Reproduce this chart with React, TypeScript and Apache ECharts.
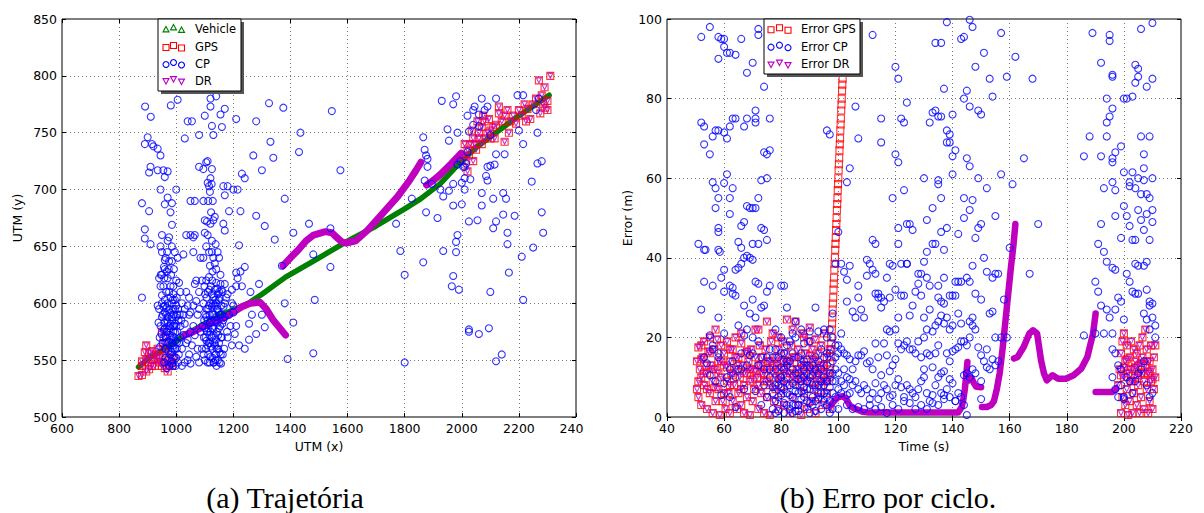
import React, { useEffect, useRef } from "react";
import * as echarts from "echarts";

// ---------- Left chart (trajectory) ----------
const leftXTicks = [600, 800, 1000, 1200, 1400, 1600, 1800, 2000, 2200, 2400];
const leftYTicks = [500, 550, 600, 650, 700, 750, 800, 850];

const leftVehicle: number[][] = [
  [868, 544], [900, 551], [960, 560], [1030, 572], [1100, 582], [1160, 590], [1253, 600], [1300, 608],
  [1383, 623], [1500, 640], [1588, 653], [1700, 668], [1800, 683], [1857, 692], [1924, 705], [1991, 723],
  [2050, 737], [2125, 751], [2200, 765], [2306, 783],
];

const leftGps: number[][] = [
  [868, 536], [880, 537], [895, 540], [905, 542], [880, 549], [890, 557], [895, 563], [905, 556], [915, 558],
  [920, 550], [930, 555], [935, 560], [940, 548], [950, 545], [960, 543], [970, 540], [975, 545], [985, 548],
  [990, 552], [900, 548], [910, 553], [925, 545], [945, 553], [955, 565], [965, 556], [975, 552], [880, 545],
  [895, 551], [915, 545], [935, 552], [955, 548], [985, 545], [965, 570], [950, 575], [960, 560],
  [2020, 716], [2020, 735], [2030, 740], [2040, 725], [2040, 745], [2050, 735], [2060, 745], [2060, 750],
  [2070, 740], [2070, 755], [2080, 745], [2080, 760], [2090, 750], [2100, 745], [2100, 752], [2110, 755],
  [2115, 745], [2120, 757], [2130, 767], [2130, 773], [2140, 760], [2150, 742], [2150, 765], [2160, 770],
  [2165, 750], [2170, 760], [2180, 765], [2190, 758], [2200, 770], [2210, 765], [2220, 775], [2225, 760],
  [2230, 771], [2240, 762], [2250, 775], [2260, 780], [2270, 796], [2275, 767], [2280, 783], [2290, 790],
  [2290, 772], [2300, 778], [2310, 800], [2300, 770], [2285, 775], [2005, 730], [2010, 725], [2035, 752],
  [2055, 760], [2075, 765], [2095, 762], [2010, 740], [2025, 730], [2045, 740],
];

const leftCp: number[][] = [
  [891, 773], [911, 764], [1005, 779], [981, 774], [890, 740], [900, 746], [915, 740], [920, 738], [935, 736],
  [945, 730], [880, 688], [890, 665], [890, 657], [905, 681], [910, 652], [880, 605], [910, 720], [905, 715],
  [935, 717], [955, 717], [970, 716], [960, 711], [945, 700], [960, 687], [970, 693], [985, 688], [980, 680],
  [985, 669], [975, 658], [970, 655], [950, 660], [945, 650], [950, 645], [960, 638], [975, 637], [985, 637],
  [960, 630], [950, 625], [940, 622], [970, 622], [955, 615], [965, 610], [980, 615], [990, 615], [1000, 700],
  [1030, 745], [1040, 760], [1055, 760], [1050, 690], [1065, 690], [1050, 660], [1060, 658], [1065, 660],
  [1025, 643], [1035, 610], [1045, 605], [1030, 595], [1045, 590],
  [1100, 765], [1120, 780], [1120, 773], [1125, 756], [1130, 748], [1140, 782], [1160, 755], [1155, 766],
  [1170, 771], [1080, 748], [1080, 720], [1095, 718], [1110, 725], [1125, 718], [1105, 724],
  [1210, 762], [1180, 703], [1165, 703], [1200, 700], [1215, 700], [1170, 695], [1185, 681], [1225, 681],
  [1230, 714], [1240, 710], [1165, 670], [1170, 664], [1220, 651], [1240, 632], [1225, 628], [1210, 627],
  [1215, 622], [1210, 615], [1230, 615], [1195, 612], [1180, 608], [1195, 600], [1200, 598], [1200, 592],
  [1170, 588], [1210, 580], [1220, 563], [1240, 560], [1195, 563], [1180, 570], [1205, 573],
  [1280, 760], [1270, 730], [1300, 717], [1325, 776], [1330, 742], [1340, 728], [1375, 772], [1380, 692],
  [1435, 750], [1430, 733], [1545, 769], [1575, 717], [1280, 677], [1310, 668], [1345, 656], [1370, 633],
  [1410, 662], [1465, 670], [1480, 643], [1540, 666], [1540, 632], [1290, 617], [1260, 610], [1265, 590],
  [1255, 582], [1280, 573], [1310, 579], [1255, 568], [1300, 590], [1380, 600], [1410, 583], [1390, 551],
  [1485, 603], [1480, 556],
  [1770, 670], [1785, 646], [1800, 625], [1800, 548], [1865, 636], [1865, 746], [1870, 735], [1875, 730],
  [1880, 720], [1870, 708], [1875, 680], [1880, 727], [1895, 705], [1930, 778], [1950, 753], [1980, 782],
  [1970, 775], [1955, 743], [1985, 750], [1925, 700], [1935, 694], [1915, 675], [1955, 699], [1970, 705],
  [1985, 722], [1995, 725], [1970, 686], [2000, 687], [1985, 660], [1980, 654], [1980, 645], [1935, 646],
  [1970, 624], [1965, 615], [1990, 612], [1825, 692],
  [2020, 765], [2040, 770], [2045, 773], [2060, 766], [2040, 757], [2060, 756], [2070, 780], [2080, 770],
  [2090, 773], [2120, 780], [2100, 748], [2090, 720], [2100, 721], [2090, 708], [2085, 712], [2070, 697],
  [2110, 692], [2070, 686], [2030, 709], [2020, 733], [2010, 710], [2025, 672], [2055, 673], [2110, 666],
  [2120, 672], [2145, 678], [2145, 697], [2155, 692], [2160, 662], [2160, 652], [2165, 627], [2115, 722],
  [2120, 731], [2150, 731], [2185, 677], [2195, 783], [2215, 783], [2215, 740], [2200, 752], [2245, 707],
  [2265, 750], [2265, 723], [2280, 725], [2270, 780], [2260, 770], [2280, 680], [2285, 662], [2250, 649],
  [2210, 641], [2215, 603], [2100, 610], [2025, 577], [2025, 575], [2060, 573], [2095, 578], [2120, 549],
  [2140, 555], [2025, 751], [2010, 700], [2000, 706], [2005, 720], [2010, 720], [2015, 723],
  [945, 580], [950, 588], [955, 570], [960, 592], [962, 560], [965, 575], [968, 585], [970, 550], [972, 565],
  [975, 595], [977, 578], [980, 555], [982, 568], [984, 588], [986, 547], [988, 560], [990, 575], [992, 590],
  [994, 553], [996, 582], [998, 567], [1000, 598], [1002, 560], [1004, 575], [1006, 548], [1008, 585],
  [970, 600], [975, 610], [980, 605], [985, 600], [990, 608], [995, 603], [960, 603], [955, 597], [950, 600],
  [940, 595], [935, 598], [938, 583], [942, 570], [958, 548], [966, 543], [976, 545], [990, 545], [1000, 552],
  [1010, 565], [1015, 580], [1020, 560], [1025, 572], [1030, 582], [1035, 565], [1040, 550], [1045, 555],
  [1050, 547], [1040, 568], [1050, 575], [1060, 580], [1070, 553], [1075, 560], [1080, 548], [1055, 563],
  [1065, 572], [1020, 600], [1025, 590], [1040, 598], [1050, 592], [1060, 598], [1070, 602], [1015, 610],
  [1010, 618], [1065, 617], [1020, 545], [1030, 548], [963, 640], [957, 632], [1005, 640], [945, 615],
  [950, 607], [965, 590], [985, 565], [978, 572], [988, 580], [995, 560], [970, 583], [960, 578], [952, 565],
  [1004, 590], [998, 545],
  [958, 583], [962, 571], [967, 596], [971, 588], [973, 558], [979, 592], [981, 582], [983, 549], [987, 571],
  [989, 595], [991, 563], [993, 580], [997, 574], [999, 588], [1003, 566], [1007, 595], [1009, 555], [963, 552],
  [969, 575], [974, 580], [986, 585], [992, 570], [996, 595], [1001, 580], [953, 590], [957, 577], [948, 573],
  [944, 562], [1012, 590], [1014, 570], [1018, 585], [978, 563], [984, 557], [966, 566], [961, 598], [988, 603],
  [1002, 605], [946, 625], [958, 622], [967, 628], [974, 630], [982, 625], [992, 630], [1000, 620], [995, 645],
  [985, 650], [968, 645],
  [1090, 560], [1092, 580], [1095, 600], [1097, 570], [1099, 615], [1100, 550], [1102, 590], [1104, 560],
  [1106, 605], [1108, 575], [1110, 548], [1112, 595], [1114, 565], [1116, 612], [1118, 583], [1120, 553],
  [1122, 600], [1124, 570], [1126, 620], [1128, 590], [1130, 548], [1132, 605], [1134, 565], [1136, 585],
  [1138, 555], [1140, 600], [1142, 575], [1144, 613], [1146, 550], [1148, 592], [1150, 565], [1152, 605],
  [1154, 580], [1156, 555], [1158, 598], [1160, 570], [1162, 610], [1165, 585], [1168, 560], [1170, 600],
  [1105, 620], [1115, 623], [1125, 608], [1135, 612], [1145, 595], [1155, 617], [1100, 578], [1110, 585],
  [1120, 575], [1130, 578], [1140, 588], [1150, 578], [1160, 590], [1112, 555], [1122, 562], [1132, 548],
  [1142, 560], [1152, 548], [1085, 575], [1080, 595], [1075, 590], [1178, 575], [1175, 605], [1170, 617],
  [1185, 590], [1190, 580], [1095, 640], [1105, 650], [1110, 660], [1115, 645], [1120, 670], [1125, 655],
  [1130, 640], [1135, 635], [1140, 630], [1145, 645], [1150, 640], [1155, 625], [1118, 633], [1127, 628],
  [1138, 652], [1100, 662], [1108, 672], [1122, 680], [1130, 673], [1112, 690], [1118, 698], [1124, 705],
  [1115, 703], [1110, 706], [1120, 710], [1128, 690], [1135, 676], [1095, 690], [1100, 673], [1125, 645],
  [1140, 618], [1150, 610], [1035, 660], [1060, 645], [1085, 640], [1070, 620], [1080, 610], [1090, 620],
  [1096, 555], [1098, 585], [1101, 608], [1103, 570], [1107, 595], [1109, 563], [1111, 610], [1113, 578],
  [1117, 590], [1119, 565], [1121, 615], [1123, 585], [1127, 560], [1129, 600], [1131, 572], [1133, 590],
  [1137, 603], [1139, 568], [1141, 545], [1143, 595], [1147, 572], [1149, 603], [1151, 557], [1153, 590],
  [1157, 570], [1159, 612], [1161, 582], [1163, 555], [1166, 597], [1105, 588], [1115, 598], [1125, 597],
  [1135, 598], [1145, 583], [1155, 590], [1117, 548], [1127, 552], [1137, 550], [1147, 560], [1157, 547],
  [1106, 567], [1126, 578], [1146, 608], [1116, 572], [1136, 563],
];

const leftDr1: number[][] = [
  [1030, 572], [1060, 575], [1100, 580], [1150, 585], [1186, 590], [1230, 597], [1260, 600], [1293, 601],
  [1315, 595], [1340, 585], [1383, 572],
];
const leftDr2: number[][] = [
  [1374, 633], [1400, 640], [1428, 647], [1455, 655], [1481, 660], [1522, 663], [1545, 662], [1562, 658],
  [1580, 654], [1595, 653], [1629, 655], [1669, 664], [1723, 679], [1776, 694], [1817, 708], [1840, 717],
  [1857, 724],
];
const leftDr3: number[][] = [[1877, 704], [1900, 708], [1924, 713], [1964, 723], [1998, 732]];

// ---------- Right chart (error per cycle) ----------
const rightXTicks = [40, 60, 80, 100, 120, 140, 160, 180, 200, 220];
const rightYTicks = [0, 20, 40, 60, 80, 100];

const rightGpsA: number[][] = [
  [50.5, 14], [50.5, 7], [51, 5], [51, 17.5], [51.5, 12], [52, 10], [52, 3], [52.5, 15], [53, 8], [53, 19],
  [53.5, 13], [54, 2], [54, 11], [54.5, 16.5], [55, 6], [55, 20], [55.5, 13], [56, 1], [56, 9], [56.5, 17],
  [57, 4], [57, 12], [57.5, 19.5], [58, 7], [58, 14], [58.5, 0.5], [59, 10], [59, 18], [59.5, 4], [60, 13],
  [60, 16], [60.5, 2], [61, 9], [61, 19], [61.5, 6], [62, 14], [62, 1], [62.5, 11], [63, 17], [63, 4],
  [63.5, 8], [64, 12], [64, 20], [64.5, 2], [65, 15], [65, 6], [65.5, 10], [66, 18.5], [66, 3], [66.5, 13],
  [67, 8], [67, 1], [67.5, 16], [68, 11], [68, 5], [68.5, 14], [69, 9], [69, 0.5], [69.5, 17], [70, 12],
  [70, 4], [70.5, 7], [71, 15], [71, 22], [71.5, 10], [72, 2], [72, 13], [72.5, 18], [73, 6], [73, 11],
  [73.5, 15], [74, 1], [74, 9], [74.5, 17], [75, 5], [75, 12], [75.5, 14], [76, 0.5], [76, 8], [76.5, 19],
  [77, 11], [77, 21], [77.5, 4], [78, 15], [78, 7], [78.5, 13], [79, 2], [79, 17], [79.5, 10], [80, 14],
  [80, 6], [80.5, 19], [81, 12], [81, 3], [81.5, 16], [82, 8], [82, 24.5], [82.5, 14], [83, 1], [83, 11],
  [83.5, 18], [84, 5], [84, 22], [84.5, 15], [85, 9], [85, 24], [85.5, 12], [86, 3], [86, 17], [86.5, 8],
  [87, 14], [87, 0.5], [87.5, 21], [88, 11], [88, 6], [88.5, 16], [89, 2], [89, 13], [89.5, 19], [90, 9],
  [90, 15.5], [90.5, 4], [91, 12], [91, 17], [91.5, 7], [92, 14], [92, 1], [92.5, 10], [93, 16], [93, 5],
  [93.5, 12], [94, 8], [94, 18], [94.5, 3], [95, 13], [95, 21], [95.5, 9], [96, 15], [96, 6], [96.5, 11],
  [97, 2], [97, 17],
  [51, 9], [52, 14.5], [53, 11], [54, 7], [55, 16], [56, 12], [57, 7.5], [58, 11], [59, 14], [60, 6],
  [61, 12.5], [62, 8], [63, 10.5], [64, 15], [65, 13], [66, 7], [67, 11], [68, 16.5], [69, 12], [70, 9.5],
  [71, 11.5], [72, 8], [73, 13], [74, 11], [75, 9], [76, 14], [77, 13], [78, 10], [79, 12], [80, 9], [81, 14],
  [82, 11], [83, 13.5], [84, 10], [85, 15], [86, 12], [87, 10], [88, 13], [89, 9], [90, 12], [91, 14.5],
  [92, 11], [93, 9], [94, 13], [95, 11], [96, 9], [52, 18], [62, 17], [72, 22], [79, 20], [88, 20], [92, 19.5],
  [75, 24], [90, 22.5], [57, 22], [66, 21],
];
const rightGpsRise: number[][] = [
  [97.0, 10], [97.1, 12], [97.2, 13.5], [97.3, 15], [97.4, 17], [97.5, 18.5], [97.6, 20], [97.7, 22],
  [97.8, 23.5], [97.9, 25], [98.0, 27], [98.1, 28.5], [98.2, 30], [98.3, 32], [98.4, 33.5], [98.5, 35],
  [98.6, 37], [98.7, 38.5], [98.8, 40], [98.9, 42], [99.0, 43.5], [99.1, 45], [99.2, 47], [99.3, 48.5],
  [99.4, 50], [99.5, 52], [99.6, 53.5], [99.7, 55], [99.8, 57], [99.9, 58.5], [100.0, 60], [100.1, 62],
  [100.2, 63.5], [100.3, 65], [100.4, 67], [100.5, 68.5], [100.6, 70], [100.7, 72], [100.8, 73.5],
  [100.9, 75], [101.0, 77], [101.1, 78.5], [101.2, 80], [101.3, 82], [101.4, 83.5], [101.5, 85], [101.6, 87],
  [101.7, 88.5], [101.8, 90], [101.9, 92], [102.0, 93.5], [102.1, 95], [102.2, 97], [102.3, 98.5],
];
const rightGpsB: number[][] = [
  [198, 8], [198.5, 12], [199, 1], [199, 16], [199.5, 5], [199.5, 19], [200, 10], [200, 21], [200.5, 3],
  [200.5, 14], [201, 7], [201, 18], [201.5, 0.5], [201.5, 11], [202, 15], [202, 4], [202.5, 9], [202.5, 19],
  [203, 12], [203, 1], [203.5, 17], [203.5, 6], [204, 14], [204, 10], [204.5, 3], [204.5, 16], [205, 8],
  [205, 13], [205.5, 1], [205.5, 18], [206, 11], [206, 5], [206.5, 15], [206.5, 20], [207, 9], [207, 2],
  [207.5, 13], [207.5, 22], [208, 7], [208, 17], [208.5, 11], [208.5, 1], [209, 14], [209, 4], [209.5, 9],
  [209.5, 18], [210, 12], [210, 2], [210.5, 15], [210.5, 7], [211, 18], [211, 10],
  [199, 10.5], [200, 12.5], [201, 14.5], [202, 12], [203, 9], [204, 12.5], [205, 10.5], [206, 13.5],
  [207, 11], [208, 14], [209, 11.5], [210, 9.5],
];

const rightCp: number[][] = [
  [52, 95.5], [55, 98], [58, 95.5], [58, 90], [59, 95], [60, 93], [60, 95], [61, 91.5], [62, 91.5], [64, 91],
  [66, 95], [68, 86.5], [70, 89], [72, 96], [72, 97.5], [74, 83], [76, 97], [52, 74], [53, 73], [53, 68.5],
  [55, 66], [56, 70.5], [57, 72], [58, 72], [60, 71.5], [61, 70], [62, 73], [63, 75], [64, 75], [67, 73],
  [68, 75], [71, 77], [71, 75], [71, 74], [76, 75], [61, 61], [56, 59], [57, 57.5], [58, 55], [60, 58.8],
  [63, 57.5], [66, 48], [67, 49], [68, 53], [69, 52.5], [70, 52.5], [71, 52.5], [72, 55], [73, 59.5], [75, 60],
  [74, 66.5], [75, 66], [76, 67], [51, 43.5], [53, 42], [53.5, 42], [57, 52.5], [58, 47.5], [58, 46.5], [58, 42],
  [58.5, 41.5], [62, 55], [62, 51], [65, 44], [66, 42.5], [70, 43.5], [72, 43.5], [73, 47.5], [74, 47],
  [75, 44.5], [59, 35], [60, 37], [62, 33], [63, 32.5], [63, 31], [64, 30.5], [64, 37], [65, 37.5], [66, 38.5],
  [67, 40], [68, 40.5], [69, 40], [70, 39.5], [71, 34], [72, 33.5], [53, 34], [56, 33], [52, 27], [58, 25],
  [60, 31.5], [65, 23], [67, 28], [68, 22], [69, 26], [70, 29.5], [71, 25], [73, 27.5], [74, 28], [75, 31.5],
  [76, 33], [78, 22], [80, 33], [81, 33], [82, 27.5], [84, 21], [85, 24], [87, 22], [90, 21.5], [92, 27.5],
  [96, 72], [97, 71], [100, 46.5], [99, 38.5], [98, 26], [97, 22], [95, 22],
  [104, 62.5], [103, 59], [106, 78], [107, 70], [112, 96], [115, 75], [115, 69], [119, 55], [120, 88], [121, 85],
  [120, 66], [121, 64], [122, 75], [123, 74], [124, 79], [123, 57], [124, 48.5], [125, 48.5], [126, 47],
  [130, 60], [131, 49.5], [132, 74], [133, 76.5], [134, 94], [134, 77], [135, 75.5], [136, 94], [136, 75.5],
  [135, 59.5], [135, 58.5], [133, 52.5], [136, 55], [137, 82.5], [138, 72], [139, 71], [138, 69], [139, 69],
  [140, 76], [140, 61], [140, 65.5], [141, 67], [142, 46], [143, 95], [144, 95.5], [145, 82], [144, 80],
  [145, 65], [146, 63], [146, 78], [147, 98], [148, 88], [149, 77], [150, 76], [149, 60], [150, 48.5],
  [149, 47.5], [147, 54.5], [146, 52], [144, 55], [144, 50], [148, 45], [138, 47.5], [136, 46.5], [133, 43.5],
  [134, 43.5], [137, 42], [131, 41.5], [121, 47.5], [121, 43.5], [124, 38.5], [122, 38.5], [128, 36], [129, 36],
  [132, 33], [131, 35], [130, 39], [137, 35], [135, 33], [135, 30], [136, 29], [137, 28.5], [139, 30.5],
  [140, 30.5], [141, 34], [142, 34], [143, 34], [145, 35], [146, 34], [147, 38], [148, 31], [150, 29.5],
  [151, 40], [152, 36.5], [153, 26], [154, 26.5], [154, 35], [155, 36], [156, 36], [151, 91.5], [153, 85],
  [154, 80.5], [155, 50.5], [152, 57.5], [157, 96.5], [159, 85.5], [157, 61], [161, 58.5], [162, 90.5],
  [165, 65], [167, 36], [168, 85], [170, 48.5], [158, 29.5], [160, 42.5], [157, 20], [159, 20], [138, 99.2],
  [146, 99.8],
  [101, 38.5], [102, 36.5], [103, 34.5], [104, 38], [103, 29], [105, 26.5], [106, 25], [107, 33], [107, 30],
  [108, 27], [109, 25], [110, 35.5], [110, 39.5], [111, 38.5], [112, 37], [113, 36], [113, 31], [114, 30],
  [115, 30], [116, 29], [117, 35], [118, 38.5], [119, 38], [112, 44.5], [113, 43.5], [114, 31], [115, 27.5],
  [117, 22], [118, 21.5], [120, 22], [121, 25], [122, 30.5], [123, 30.5], [124, 38.5], [125, 25.5], [126, 28],
  [127, 31.5], [128, 33.5], [129, 30.5], [130, 25], [130, 20], [131, 22], [132, 27], [133, 21.5], [134, 23],
  [135, 24], [136, 25.5], [137, 23.5], [138, 25], [139, 22], [140, 23], [141, 30.5], [142, 26], [143, 23.5],
  [144, 19], [145, 18], [146, 24], [147, 23], [148, 22], [149, 17.5], [150, 15.5], [151, 14], [152, 17],
  [153, 12], [154, 14.5], [155, 20], [156, 14],
  [101, 17], [102, 16], [103, 15.5], [104, 14.5], [105, 12], [106, 14], [107, 15.5], [108, 15.5], [109, 16.5],
  [110, 13.5], [111, 14], [112, 12], [113, 18.5], [114, 15], [115, 10.5], [116, 18.5], [117, 15.5], [118, 11.5],
  [119, 13], [120, 14.5], [121, 18.5], [122, 17], [123, 18], [124, 19], [125, 17], [126, 17], [127, 16],
  [128, 19], [129, 15], [130, 12], [131, 16], [132, 15.5], [133, 12.5], [134, 16], [135, 18], [136, 11],
  [137, 11.5], [138, 16], [139, 14], [140, 16.5], [141, 17], [142, 17.5], [143, 19], [144, 10.5], [145, 11],
  [146, 10], [147, 12], [148, 11], [102, 8], [103, 5.5], [104, 9.5], [105, 8], [106, 9], [107, 7], [108, 6],
  [109, 8], [110, 7], [111, 4.5], [112, 6], [113, 8.5], [114, 4.5], [115, 6], [116, 8], [117, 7], [118, 5],
  [119, 5.5], [120, 8], [121, 9.5], [122, 7.5], [123, 5], [124, 8], [125, 7], [126, 6], [127, 5], [128, 7],
  [129, 9], [130, 10], [131, 6], [132, 4], [133, 5.5], [134, 8], [135, 10], [136, 6], [137, 5.5], [138, 7],
  [139, 9.5], [140, 8.5], [141, 4], [142, 6], [143, 5], [144, 3], [103, 3], [105, 2], [107, 2.5], [109, 2],
  [111, 3], [113, 2], [115, 2.5], [117, 1], [119, 3], [121, 2], [123, 4], [125, 3.5], [127, 2], [129, 3],
  [131, 2], [133, 3.5], [135, 3], [137, 4.5], [139, 5], [141, 4], [145, 0.5], [155, 13], [152, 12.5], [150, 9],
  [150, 4.5], [146, 20], [147, 25], [120, 32], [118, 30],
  [53, 15], [54, 13.5], [55, 10.5], [56, 18], [57, 9], [58, 15], [59, 5.5], [60, 8.5], [61, 10], [62, 12],
  [63, 14], [64, 10], [65, 12], [66, 12], [67, 7], [68, 13], [69, 15.5], [70, 16], [71, 6.5], [72, 13],
  [73, 15], [74, 12], [75, 15], [76, 17], [77, 7.5], [78, 4], [79, 8], [80, 10], [81, 3.5], [82, 6], [83, 8],
  [84, 5], [85, 6.5], [86, 3], [87, 9], [88, 7.5], [89, 4], [90, 10], [91, 5], [92, 8], [93, 4.5], [94, 9],
  [95, 6], [96, 3], [97, 7.5], [99, 5], [77, 2], [78, 12], [79, 9.5], [80, 5.5], [81, 7], [82, 10], [83, 2],
  [84, 8.5], [85, 11], [86, 6], [87, 4.5], [88, 2.5], [89, 11], [90, 7], [91, 3], [92, 12], [93, 8], [94, 2],
  [95, 10], [96, 9], [98, 11], [76, 10], [78, 17], [80, 12.5], [82, 14], [84, 16], [86, 15], [88, 14],
  [90, 12.5], [92, 15], [94, 17], [96, 13], [98, 20], [99, 18], [100, 16], [77, 6], [79, 1.5], [81, 12],
  [83, 5.5], [85, 3], [87, 13], [89, 7], [91, 10.5], [93, 6], [95, 4], [97, 1], [75, 5], [74, 8], [73, 3],
  [72, 19], [70, 20], [67, 20.5], [66, 16], [64, 2.5], [62, 5], [60, 21], [58, 16], [56, 17], [55, 20.5],
  [80, 20], [83, 19], [85, 20], [88, 18.5], [90, 19], [93, 21.5], [96, 20], [97, 16], [98, 14], [99, 9],
  [100, 7], [101, 6], [100, 2], [98, 2], [90, 1], [84, 1], [82, 18], [79, 15], [81, 16], [86, 9.5], [88, 10],
  [92, 1.5],
  [76, 12], [77, 15], [78, 8], [79, 5], [80, 16], [81, 9], [82, 3], [83, 14], [84, 12], [85, 8], [86, 11],
  [87, 16], [88, 5], [89, 14.5], [90, 3.5], [91, 8], [92, 4], [93, 11], [94, 6], [95, 15], [96, 5], [97, 11],
  [98, 6], [99, 12], [78, 1], [81, 1], [85, 1.5], [87, 6.5], [89, 9], [91, 13], [93, 14], [95, 8], [97, 4],
  [80, 7.5], [82, 13], [84, 3], [86, 1.5], [88, 12], [94, 12], [96, 16], [98, 9], [100, 11], [101, 9],
  [102, 12], [103, 10], [104, 6], [99, 15], [100, 18], [101, 21],
  [189, 96.5], [192, 89], [195, 94.5], [195, 96], [196, 86], [196, 85.5], [194, 80], [196, 77.5], [195, 75.5],
  [194, 74], [194, 70.5], [188, 70.5], [192, 65.5], [196, 65], [196, 64], [197, 66.5], [186, 65.5], [199, 68],
  [200, 61.5], [203, 61.5], [202, 59], [202, 58], [204, 57.5], [205, 60], [207, 62.5], [207, 59.5], [208, 56],
  [209, 55], [206, 56], [210, 60], [200, 80], [201, 80], [203, 80.5], [204, 84], [204, 88.5], [205, 87.5],
  [205, 85.5], [208, 83], [210, 85], [209, 70.5], [206, 70.5], [207, 66], [206, 97.5], [210, 99], [193, 57.5],
  [197, 57], [196, 59], [197, 50.5], [199, 45], [200, 53], [201, 50.5], [202, 48], [203, 44.5], [204, 44.5],
  [205, 52], [206, 49.5], [207, 47], [208, 51], [209, 44.5], [210, 52], [210, 49], [192, 48.5], [191, 43.5],
  [193, 41.5], [194, 39], [196, 37.5], [197, 37], [198, 30], [197, 27], [199, 29], [200, 24.5], [201, 36],
  [202, 34], [203, 31.5], [204, 31], [205, 31], [204, 38.5], [205, 38], [207, 38], [208, 39], [208, 32],
  [209, 29], [209, 28], [210, 28.5], [210, 25], [207, 26], [208, 24.5], [209, 22], [211, 23], [211, 20],
  [190, 34], [191, 31.5], [192, 28], [193, 21], [194, 27], [195, 25], [196, 21], [196, 17], [197, 16],
  [198, 13], [199, 12], [199, 8], [200, 5], [200, 4.5], [201, 10], [202, 9], [203, 6], [204, 9], [205, 11],
  [206, 12], [207, 14], [208, 8], [209, 5], [210, 6], [196, 10], [197, 7], [198, 5], [186, 20.5], [190, 21],
];

const rightDrA: number[][] = [
  [97.3, 2.9], [98.5, 4], [100, 5], [101.5, 5.2], [102.7, 4.6], [104, 2.9], [105.5, 2.2], [106.8, 1.8],
  [108.5, 1.3], [110.8, 1.1], [141.9, 1.1], [143.2, 2.5], [143.8, 4.5], [144.3, 7], [144.8, 10.5], [145.2, 13.8],
];
const rightDrB: number[][] = [[145.6, 9.2], [146.6, 9.8], [147.5, 8.5], [148.3, 7.6], [150, 7.5]];
const rightDrC: number[][] = [
  [150.3, 2.5], [152, 2.5], [153.5, 3], [154.5, 4], [155.5, 7], [156.5, 11], [157.5, 17], [158.5, 24],
  [159.5, 31], [160.5, 38], [161.3, 43], [162, 48.5],
];
const rightDrD: number[][] = [
  [161.5, 14.7], [162.8, 15.1], [164.9, 17.6], [166.9, 21], [168.2, 21.8], [169.6, 21], [171, 14.2], [172, 11],
  [173, 9.2], [175, 10.5], [177, 9.6], [179.7, 9.6], [182.4, 10.5], [185.1, 12.2], [187.2, 15.1], [189.2, 21],
  [190.1, 26],
];
const rightDrE: number[][] = [[190.1, 6.3], [196, 6.3], [197.3, 7.1]];

const leftLegendLabels = ["Vehicle", "GPS", "CP", "DR"];
const rightLegendLabels = ["Error GPS", "Error CP", "Error DR"];
const captions = ["(a) Trajetória", "(b) Erro por ciclo."];

const GREEN = "#008000";
const RED = "#ff0000";
const BLUE = "#0000ff";
const MAGENTA = "#bf00bf";
const FONT = "DejaVu Sans";

function markerShapes(kind: string, x: number, y: number, color: string) {
  const s = 3;
  const style = { fill: "none", stroke: color, lineWidth: 1.1 };
  if (kind === "circle") return { type: "circle", shape: { cx: x, cy: y, r: s }, style, z: 101 };
  if (kind === "rect") return { type: "rect", shape: { x: x - s, y: y - s, width: 2 * s, height: 2 * s }, style, z: 101 };
  if (kind === "tri")
    return { type: "polygon", shape: { points: [[x, y - s], [x + s, y + s * 0.8], [x - s, y + s * 0.8]] }, style, z: 101 };
  return { type: "polygon", shape: { points: [[x, y + s], [x + s, y - s * 0.8], [x - s, y - s * 0.8]] }, style, z: 101 };
}

function legend(x: number, y: number, w: number, h: number, rowsY: number[], mx: number[], tx: number, items: { label: string; kind: string; color: string }[]) {
  const els: any[] = [];
  els.push({ type: "rect", shape: { x: x + 3, y: y + 3, width: w, height: h }, style: { fill: "#555" }, z: 99 });
  els.push({ type: "rect", shape: { x, y, width: w, height: h }, style: { fill: "#fff", stroke: "#000", lineWidth: 1 }, z: 100 });
  const dy = [0.5, -1.5, 1];
  items.forEach((it, i) => {
    mx.forEach((m, j) => els.push(markerShapes(it.kind, m, rowsY[i] + dy[j], it.color)));
    els.push({
      type: "text", x: tx, y: rowsY[i], z: 101,
      style: { text: it.label, fill: "#000", font: `11.5px '${FONT}'`, textVerticalAlign: "middle", textAlign: "left" },
    });
  });
  return els;
}

function makeAxisX(min: number, max: number, ticks: number[], grid: number, name: string, show: boolean) {
  return {
    type: "value", gridIndex: grid, min, max, interval: ticks[1] - ticks[0],
    position: show ? "bottom" : "top",
    name: show ? name : "", nameLocation: "middle", nameGap: 22,
    nameTextStyle: { fontFamily: FONT, fontSize: 12.5, color: "#000" },
    axisLine: { show: false },
    axisTick: { show: true, inside: true, length: 4, lineStyle: { color: "#000" } },
    axisLabel: {
      show, color: "#000", fontFamily: FONT, fontSize: 12.5, margin: 5, showMinLabel: true, showMaxLabel: true,
      formatter: (v: number) => (v === 2400 ? "{c|240}" : String(v)),
      rich: { c: { fontFamily: FONT, fontSize: 12.5, color: "#000", padding: [0, 9, 0, 0] } },
    },
    splitLine: { show: show, lineStyle: { color: "#777", width: 1, type: [1, 3] } },
  };
}
function makeAxisY(min: number, max: number, ticks: number[], grid: number, name: string, show: boolean, gap: number) {
  return {
    type: "value", gridIndex: grid, min, max, interval: ticks[1] - ticks[0],
    position: show ? "left" : "right",
    name: show ? name : "", nameLocation: "middle", nameGap: gap, nameRotate: 90,
    nameTextStyle: { fontFamily: FONT, fontSize: 12.5, color: "#000" },
    axisLine: { show: false },
    axisTick: { show: true, inside: true, length: 4, lineStyle: { color: "#000" } },
    axisLabel: { show, color: "#000", fontFamily: FONT, fontSize: 12.5, margin: 5, showMinLabel: true, showMaxLabel: true },
    splitLine: { show: show, lineStyle: { color: "#777", width: 1, type: [1, 3] } },
  };
}

function scatter(data: number[][], symbol: string, color: string, xi: number, size: number, rotate = 0, z = 2) {
  return {
    type: "scatter", xAxisIndex: xi, yAxisIndex: xi, data, symbol, symbolSize: size, symbolRotate: rotate, z,
    itemStyle: { color: "rgba(0,0,0,0)", borderColor: color, borderWidth: 1.1 },
    silent: true,
  };
}
function thickLine(data: number[][], color: string, xi: number, width: number, z = 2) {
  return {
    type: "line", xAxisIndex: xi, yAxisIndex: xi, data, showSymbol: false, symbol: "none", z,
    lineStyle: { color, width, cap: "round", join: "round" }, silent: true,
  };
}

export default function App() {
  const ref = useRef<HTMLDivElement>(null);
  useEffect(() => {
    if (!ref.current) return;
    const chart = echarts.init(ref.current, undefined, { renderer: "svg" });
    const gridCommon = { show: true, borderColor: "#000", borderWidth: 1, backgroundColor: "#fff" };
    const option: any = {
      animation: false,
      backgroundColor: "#fff",
      grid: [
        { ...gridCommon, left: 62, top: 19, width: 514, height: 398 },
        { ...gridCommon, left: 667, top: 19, width: 514, height: 398 },
      ],
      xAxis: [
        makeAxisX(600, 2400, leftXTicks, 0, "UTM (x)", true),
        makeAxisX(600, 2400, leftXTicks, 0, "", false),
        makeAxisX(40, 220, rightXTicks, 1, "Time (s)", true),
        makeAxisX(40, 220, rightXTicks, 1, "", false),
      ],
      yAxis: [
        makeAxisY(500, 850, leftYTicks, 0, "UTM (y)", true, 38),
        makeAxisY(500, 850, leftYTicks, 0, "", false, 38),
        makeAxisY(0, 100, rightYTicks, 1, "Error (m)", true, 32),
        makeAxisY(0, 100, rightYTicks, 1, "", false, 32),
      ],
      series: [
        thickLine(leftVehicle, GREEN, 0, 5.5, 2),
        scatter(leftGps, "rect", RED, 0, 7, 0, 3),
        thickLine(leftDr1, MAGENTA, 0, 7, 4),
        thickLine(leftDr2, MAGENTA, 0, 7, 4),
        thickLine(leftDr3, MAGENTA, 0, 7, 4),
        scatter(leftGps, "triangle", MAGENTA, 0, 5, 180, 4),
        scatter(leftCp, "circle", BLUE, 0, 7, 0, 5),
        scatter(rightGpsA, "rect", RED, 2, 7, 0, 3),
        scatter(rightGpsRise, "rect", RED, 2, 7, 0, 3),
        scatter(rightGpsB, "rect", RED, 2, 7, 0, 3),
        thickLine(rightDrA, MAGENTA, 2, 6.5, 4),
        thickLine(rightDrB, MAGENTA, 2, 6.5, 4),
        thickLine(rightDrC, MAGENTA, 2, 6.5, 4),
        thickLine(rightDrD, MAGENTA, 2, 6.5, 4),
        thickLine(rightDrE, MAGENTA, 2, 6.5, 4),
        scatter(rightGpsA, "triangle", MAGENTA, 2, 5.5, 180, 4),
        scatter(rightGpsB, "triangle", MAGENTA, 2, 5.5, 180, 4),
        scatter(rightCp, "circle", BLUE, 2, 7, 0, 5),
      ],
      graphic: [
        ...legend(158, 19, 83, 72, [29, 47, 64, 80.5], [166, 173.5, 181.5], 195, [
          { label: leftLegendLabels[0], kind: "tri", color: GREEN },
          { label: leftLegendLabels[1], kind: "rect", color: RED },
          { label: leftLegendLabels[2], kind: "circle", color: BLUE },
          { label: leftLegendLabels[3], kind: "dtri", color: MAGENTA },
        ]),
        ...legend(764, 19, 96, 55, [29.3, 46.7, 64], [771, 779.5, 788], 801, [
          { label: rightLegendLabels[0], kind: "rect", color: RED },
          { label: rightLegendLabels[1], kind: "circle", color: BLUE },
          { label: rightLegendLabels[2], kind: "dtri", color: MAGENTA },
        ]),
        {
          type: "text", x: 285, y: 497, z: 101,
          style: { text: captions[0], fill: "#000", font: "30px 'Liberation Serif'", textAlign: "center", textVerticalAlign: "middle" },
        },
        {
          type: "text", x: 888, y: 497, z: 101,
          style: { text: captions[1], fill: "#000", font: "30px 'Liberation Serif'", textAlign: "center", textVerticalAlign: "middle" },
        },
      ],
    };
    chart.setOption(option);
    return () => chart.dispose();
  }, []);
  return <div ref={ref} style={{ position: "fixed", left: 0, top: 0, width: 1204, height: 513, background: "#fff" }} />;
}
